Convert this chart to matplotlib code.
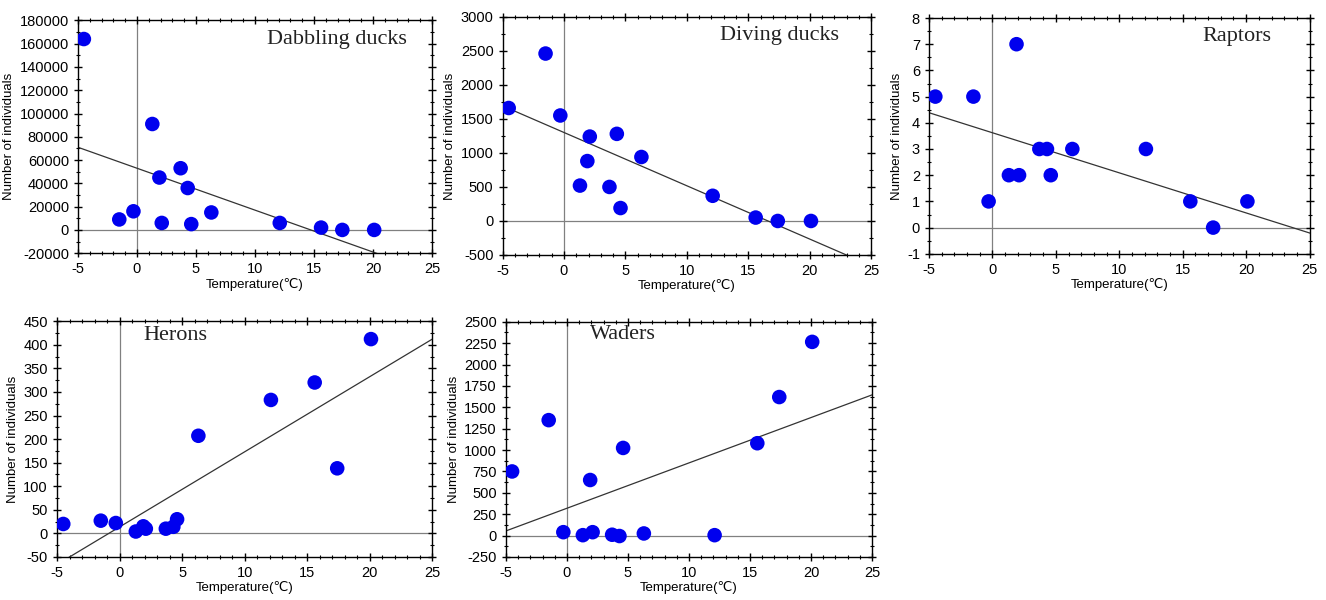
import numpy as np
import matplotlib
matplotlib.use("Agg")
from matplotlib import pyplot as plt
from matplotlib.ticker import MultipleLocator, AutoMinorLocator

plt.rcParams['font.family'] = ['Liberation Sans', 'DejaVu Sans']
plt.rcParams['axes.unicode_minus'] = False

# temperatures shared by all groups
temp = [-4.5, -1.5, -0.3, 1.3, 1.9, 2.1, 3.7, 4.3, 4.6, 6.3, 12.1, 15.6, 17.4, 20.1]

dabbling = [164000, 9000, 16000, 91000, 45000, 6000, 53000, 36000, 5000, 15000, 6000, 2000, 0, 0]
diving = [1660, 2460, 1550, 520, 880, 1240, 500, 1280, 190, 940, 370, 50, 0, 0]
raptors = [5, 5, 1, 2, 7, 2, 3, 3, 2, 3, 3, 1, 0, 1]
herons = [20, 27, 22, 4, 15, 10, 10, 14, 30, 207, 283, 320, 138, 412]
waders = [750, 1350, 40, 5, 650, 40, 10, -5, 1025, 25, 5, 1080, 1620, 2265]

# fitted lines: (slope, intercept)
fit_dabbling = (-3600, 53000)
fit_diving = (-78.3, 1300)
fit_raptors = (-0.153, 3.62)
fit_herons = (15.93, 13.7)
fit_waders = (53.0, 320)

names = ["Dabbling ducks", "Diving ducks", "Raptors", "Herons", "Waders"]
ylims = [(-20000, 180000), (-500, 3000), (-1, 8), (-50, 450), (-250, 2500)]
ysteps = [20000, 500, 1, 50, 250]

# axes boxes [left, bottom, width, height] in figure fraction
boxes = [
    [0.0588, 0.578, 0.267, 0.388],
    [0.379, 0.575, 0.278, 0.397],
    [0.7006, 0.577, 0.287, 0.393],
    [0.043, 0.0717, 0.283, 0.393],
    [0.3816, 0.0717, 0.276, 0.392],
]
title_pos = [(0.93, 0.92, 'right'), (0.913, 0.92, 'right'), (0.90, 0.92, 'right'),
             (0.23, 0.94, 'left'), (0.23, 0.945, 'left')]

series = [dabbling, diving, raptors, herons, waders]
fits = [fit_dabbling, fit_diving, fit_raptors, fit_herons, fit_waders]

fig = plt.figure(figsize=(13.26, 6), dpi=100)

for i in range(5):
    ax = fig.add_axes(boxes[i])
    ax.axhline(0, color="gray", lw=0.9, zorder=1)
    ax.axvline(0, color="gray", lw=0.9, zorder=1)
    xx = np.array([-5, 25])
    k, b = fits[i]
    ax.plot(xx, k * xx + b, color="#333333", lw=0.9, zorder=2)
    ax.scatter(temp, series[i], s=110, color="#0000ee", edgecolors="none", zorder=3)
    ax.set_xlim(-5, 25)
    ax.set_ylim(*ylims[i])
    ax.xaxis.set_major_locator(MultipleLocator(5))
    ax.xaxis.set_minor_locator(MultipleLocator(1))
    ax.yaxis.set_major_locator(MultipleLocator(ysteps[i]))
    ax.yaxis.set_minor_locator(AutoMinorLocator(2))
    ax.tick_params(which='both', direction='inout', top=True, right=True, labelsize=10.5)
    ax.tick_params(which='major', length=6, width=1)
    ax.tick_params(which='minor', length=3, width=0.8)
    for sp in ax.spines.values():
        sp.set_linewidth(1)
    ax.set_xlabel("Temperature(\u2103)", fontsize=9.5, labelpad=1)
    ax.set_ylabel("Number of individuals", fontsize=9.5, labelpad=3)
    tx, ty, ha = title_pos[i]
    ax.text(tx, ty, names[i], transform=ax.transAxes, ha=ha, va='center',
            fontsize=16, family=['Liberation Serif', 'DejaVu Serif'], color="#222222")

plt.savefig("out.png", dpi=100)
